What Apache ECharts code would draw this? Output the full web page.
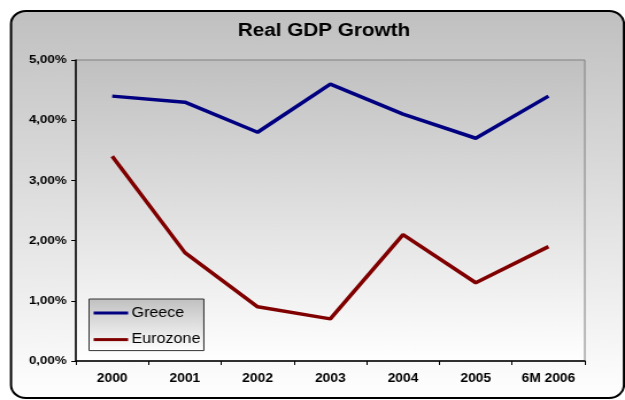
<!DOCTYPE html>
<html>
<head>
<meta charset="utf-8">
<script src="https://cdn.jsdelivr.net/npm/echarts@6/dist/echarts.min.js"></script>
<style>
  html, body { margin: 0; padding: 0; background: #ffffff; overflow: hidden; }
  /* The chart is laid out on a narrower canvas and widened to 625px,
     which gives the text its broad, stretched look. */
  #chart { width: 544px; height: 400px; transform: scaleX(1.1489); transform-origin: 0 0; }
</style>
</head>
<body>
<div id="chart"></div>
<script>
// Annual real GDP growth, percent
const years = ['2000', '2001', '2002', '2003', '2004', '2005', '6M 2006'];
const greece = [4.4, 4.3, 3.8, 4.6, 4.1, 3.7, 4.4];
const eurozone = [3.4, 1.8, 0.9, 0.7, 2.1, 1.3, 1.9];

const chart = echarts.init(document.getElementById('chart'), null, { renderer: 'canvas' });

const fade = (top, bottom) => new echarts.graphic.LinearGradient(0, 0, 0, 1, [
  { offset: 0, color: top },
  { offset: 1, color: bottom }
]);

const font = '"Liberation Sans", Arial, sans-serif';
const lineIcon = 'path://M0,0 L30,0 L30,3 L0,3 Z';

chart.setOption({
  animation: false,
  graphic: [{
    type: 'rect',
    z: -10,
    silent: true,
    shape: { x: 9.6, y: 11, width: 533.5, height: 387, r: 13 },
    style: { fill: fade('#c0c0c0', '#ffffff'), stroke: '#000000', lineWidth: 2 }
  }],
  title: {
    text: 'Real GDP Growth',
    left: 202,
    top: 17,
    textStyle: { fontFamily: font, fontSize: 18, fontWeight: 'bold', color: '#000000' }
  },
  grid: {
    left: 66, right: 35, top: 60, bottom: 39,
    show: true,
    backgroundColor: fade('#c0c0c0', '#ffffff'),
    borderColor: '#808080',
    borderWidth: 1
  },
  legend: {
    orient: 'vertical',
    left: 77.5,
    top: 299,
    padding: [7, 3, 4, 4],
    itemWidth: 30,
    itemHeight: 14,
    itemGap: 12.6,
    backgroundColor: fade('#c0c0c0', '#ffffff'),
    borderColor: '#333333',
    borderWidth: 1,
    borderRadius: 0,
    textStyle: { fontFamily: font, fontSize: 14, color: '#000000', padding: [0, 0, 0, -2] },
    data: [
      { name: 'Greece', icon: lineIcon },
      { name: 'Eurozone', icon: lineIcon }
    ]
  },
  xAxis: {
    type: 'category',
    data: years,
    boundaryGap: true,
    axisLine: { lineStyle: { color: '#000000', width: 1.5 } },
    axisTick: { show: true, length: 4, inside: false, lineStyle: { color: '#000000' } },
    axisLabel: { fontFamily: font, fontSize: 12, fontWeight: 'bold', color: '#000000', margin: 12 }
  },
  yAxis: {
    type: 'value',
    min: 0,
    max: 5,
    interval: 1,
    splitLine: { show: false },
    axisLine: { show: true, lineStyle: { color: '#000000', width: 1.5 } },
    axisTick: { show: true, length: 4, lineStyle: { color: '#000000' } },
    axisLabel: {
      fontFamily: font, fontSize: 11.6, fontWeight: 'bold', color: '#000000', margin: 8,
      formatter: v => v.toFixed(2).replace('.', ',') + '%'
    }
  },
  series: [
    {
      name: 'Greece',
      type: 'line',
      data: greece,
      symbol: 'none',
      color: '#000080',
      lineStyle: { color: '#000080', width: 3.5 }
    },
    {
      name: 'Eurozone',
      type: 'line',
      data: eurozone,
      symbol: 'none',
      color: '#800000',
      lineStyle: { color: '#800000', width: 3.5 }
    }
  ]
});
</script>
</body>
</html>
